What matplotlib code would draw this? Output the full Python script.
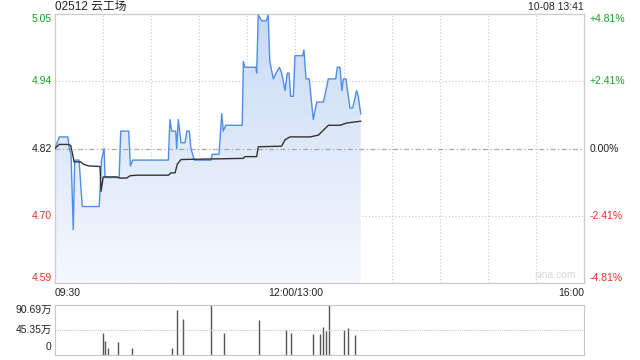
import matplotlib
matplotlib.use("Agg")
import matplotlib.pyplot as plt
import numpy as np
from matplotlib.colors import LinearSegmentedColormap

plt.rcParams['font.family'] = ['Liberation Sans', 'Noto Sans CJK SC', 'DejaVu Sans']

# minutes since 09:30 (trading minutes, lunch break removed), price in HKD
price_min = [0, 2.7, 8, 9, 10, 11.4, 12.3, 15, 17, 27.6, 29, 30.6, 31.2, 40, 41, 46, 47, 48.5,
             70.7, 71.7, 72.8, 75.3, 75.9, 76.9, 78.6, 81.1, 82.2, 83.8, 84.8, 86.9, 97.3, 98.1,
             102.3, 104, 105, 106.5, 116.8, 117.5, 118.5, 125.4, 125.8, 126.8, 129, 131.7, 133,
             134, 136.2, 137.9, 140, 141.4, 143.5, 144.9, 146, 147, 148.7, 149.7, 154.5, 155.3,
             156.6, 158.6, 161.1, 163.3, 167.4, 169, 170.5, 175.1, 176.1, 177.8, 178.9, 179.9,
             181.5, 183, 184, 185.7, 188.2, 189.2, 190.7]
price = [4.82, 4.84, 4.84, 4.82, 4.81, 4.68, 4.80, 4.80, 4.72, 4.72, 4.80, 4.82, 4.77, 4.77, 4.85,
         4.85, 4.79, 4.80, 4.80, 4.87, 4.85, 4.85, 4.82, 4.87, 4.83, 4.83, 4.85, 4.85, 4.82, 4.80,
         4.80, 4.81, 4.81, 4.88, 4.85, 4.86, 4.86, 4.97, 4.96, 4.96, 4.95, 5.05, 5.04, 5.04, 5.05,
         4.97, 4.94, 4.95, 4.96, 4.95, 4.92, 4.95, 4.95, 4.91, 4.91, 4.98, 4.98, 4.99, 4.94, 4.94,
         4.87, 4.90, 4.90, 4.92, 4.94, 4.94, 4.96, 4.96, 4.92, 4.94, 4.94, 4.91, 4.89, 4.89, 4.92,
         4.91, 4.88]

avg_min = [0, 2.7, 8.3, 9.8, 11, 11.9, 16, 17.7, 20.8, 28.1, 28.7, 30.1, 38.5, 40.5, 44.7, 46.8,
           51, 70.7, 72.4, 74.9, 76.3, 78.6, 117.5, 118.5, 125.8, 126.8, 141.4, 143.5, 146.6,
           159.1, 164.3, 170.5, 177.8, 182, 190.7]
avg_price = [4.82, 4.827, 4.827, 4.825, 4.81, 4.797, 4.797, 4.793, 4.79, 4.789, 4.746, 4.771,
             4.771, 4.769, 4.769, 4.773, 4.774, 4.774, 4.778, 4.778, 4.793, 4.801, 4.803, 4.806,
             4.806, 4.823, 4.824, 4.835, 4.840, 4.840, 4.843, 4.86, 4.86, 4.864, 4.867]

# volume bars (万股)
vol_min = [30, 31, 33, 39.5, 48, 73, 76.3, 79.7, 97.5, 105.6, 127.4, 144.3, 147.4, 161.1, 165.5,
           167.4, 169.2, 171.1, 180.5, 183, 187.3]
vol = [40.4, 25.4, 13.3, 24, 13, 13, 81.6, 65, 90.69, 40.4, 63.5, 46, 40.4, 38, 38, 50.8, 43.5,
       90.69, 46, 49, 36.8]

prev_close = 4.82
pct = 0.0481
ylo, yhi = prev_close * (1 - pct), prev_close * (1 + pct)
total_min = 330

green = '#1ea01e'
red = '#e8302a'
grid_c = '#c8c8c8'

fig = plt.figure(figsize=(6.4, 3.6), dpi=100)
ax = fig.add_axes([55 / 640, 1 - 283 / 360, 529 / 640, 269 / 360])
axv = fig.add_axes([55 / 640, 1 - 355 / 360, 529 / 640, 50 / 360])

# gradient fill under the price line
poly = ax.fill_between(price_min, price, ylo, color='none', lw=0)
cmap = LinearSegmentedColormap.from_list('g', ['#f6f9fe', '#c8daf6'])
grad = np.linspace(0, 1, 256).reshape(-1, 1)
img = ax.imshow(grad, extent=[0, total_min, ylo, yhi], aspect='auto', cmap=cmap,
                origin='lower', zorder=1)
img.set_clip_path(poly.get_paths()[0], ax.transData)

ax.plot(price_min, price, color='#4f8ee6', lw=1.0, zorder=3)
ax.plot(avg_min, avg_price, color='#333333', lw=1.0, zorder=3)

ax.set_xlim(0, total_min)
ax.set_ylim(ylo, yhi)

for m in range(30, total_min, 30):
    ax.axvline(m, color=grid_c, lw=0.8, ls=(0, (1, 2)), zorder=0)
for p in (prev_close * (1 + 0.0241), prev_close * (1 - 0.0241)):
    ax.axhline(p, color=grid_c, lw=0.8, ls=(0, (1, 2)), zorder=0)
ax.axhline(prev_close, color='#aaaaaa', lw=0.9, ls=(0, (4, 2, 1, 2)), zorder=2)

ax.set_xticks([])
ax.set_yticks([])
for s in ax.spines.values():
    s.set_color('#cccccc')
    s.set_linewidth(0.9)

# left price labels and right percent labels
left_vals = [yhi, prev_close * 1.0241, prev_close, prev_close * (1 - 0.0241), ylo]
left_txt = ['5.05', '4.94', '4.82', '4.70', '4.59']
right_txt = ['+4.81%', '+2.41%', '0.00%', '-2.41%', '-4.81%']
cols = [green, green, '#222222', red, red]
vas = ['top', 'center', 'center', 'center', 'bottom']
for v, lt, rt, c, va in zip(left_vals, left_txt, right_txt, cols, vas):
    ax.text(-0.006, v, lt, transform=ax.get_yaxis_transform(), ha='right', va=va,
            color=c, fontsize=7.5)
    ax.text(1.011, v, rt, transform=ax.get_yaxis_transform(), ha='left', va=va,
            color=c, fontsize=7.5)

fig.text(55 / 640, 1 - 7 / 360, '02512 云工场', ha='left', va='center',
         fontsize=8.5, color='#222222')
fig.text(584 / 640, 1 - 7 / 360, '10-08 13:41', ha='right', va='center',
         fontsize=7.5, color='#222222')
ax.text(0.985, 0.012, 'sina.com', transform=ax.transAxes, ha='right', va='bottom',
        fontsize=7.5, color='#d8d8d8')

# time labels
ax.text(0, -0.02, '09:30', transform=ax.transAxes, ha='left', va='top', fontsize=7.5,
        color='#222222')
ax.text(150, -0.02, '12:00/13:00', transform=ax.get_xaxis_transform(), ha='center', va='top',
        fontsize=7.5, color='#222222')
ax.text(1.0, -0.02, '16:00', transform=ax.transAxes, ha='right', va='top', fontsize=7.5,
        color='#222222')

# volume panel
vmax = 90.69
axv.vlines(vol_min, 0, vol, color='#555555', lw=1.0)
axv.set_xlim(0, total_min)
axv.set_ylim(0, vmax)
axv.axhline(vmax / 2, color=grid_c, lw=0.8, ls=(0, (1, 1)))
axv.set_xticks([])
axv.set_yticks([])
for s in axv.spines.values():
    s.set_color(grid_c)
    s.set_linewidth(0.8)
    s.set_linestyle((0, (1, 1)))
axv.text(-0.006, 0.9, '90.69万', transform=axv.transAxes, ha='right', va='center',
         fontsize=7.5, color='#222222')
axv.text(-0.006, 0.5, '45.35万', transform=axv.transAxes, ha='right', va='center',
         fontsize=7.5, color='#222222')
axv.text(-0.006, 0.16, '0', transform=axv.transAxes, ha='right', va='center',
         fontsize=7.5, color='#222222')

fig.savefig('out.png', dpi=100)
